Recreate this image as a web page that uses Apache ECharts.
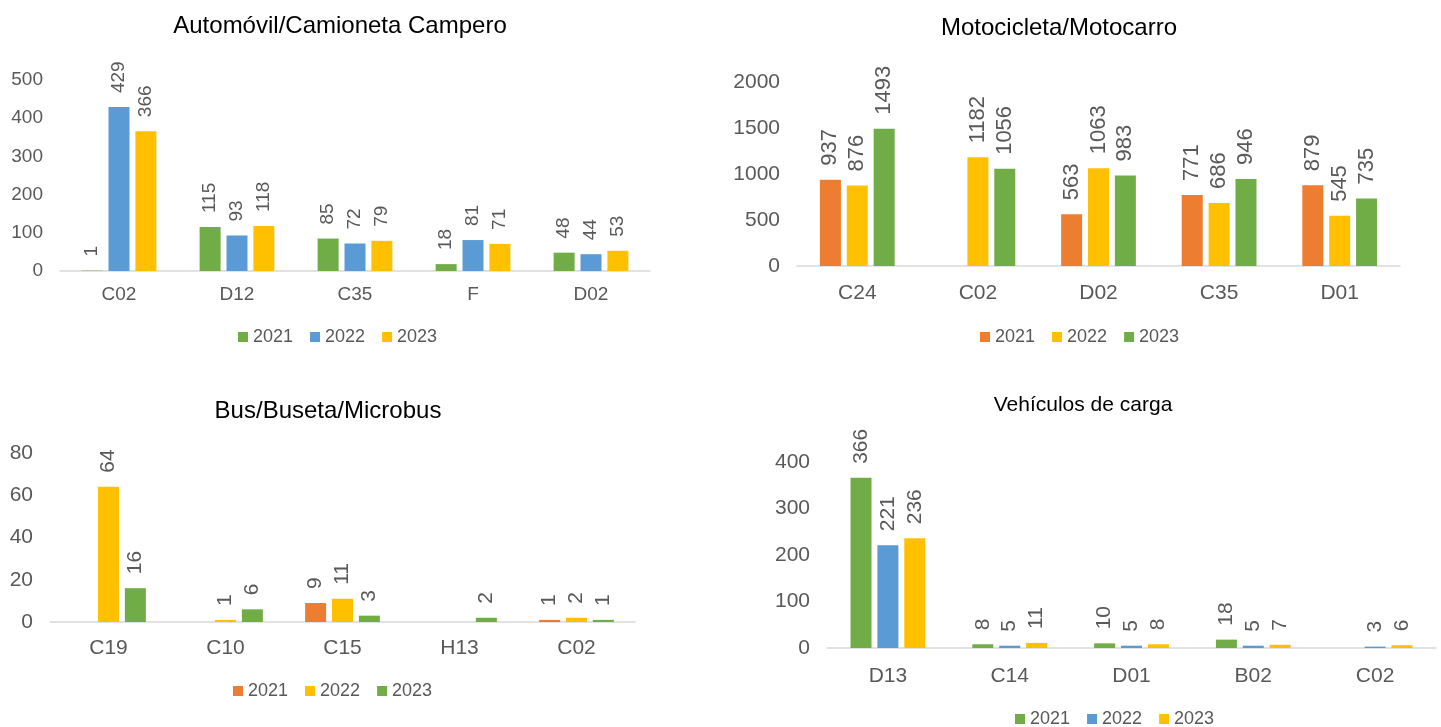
<!DOCTYPE html>
<html>
<head>
<meta charset="utf-8">
<script src="https://cdn.jsdelivr.net/npm/echarts@6/dist/echarts.min.js"></script>
<style>html,body{margin:0;padding:0;background:#fff}#c{width:1441px;height:727px}</style>
</head>
<body>
<div id="c"></div>
<script>
// Chart 1: Automóvil/Camioneta Campero
const cats1 = ['C02', 'D12', 'C35', 'F', 'D02'];
const auto2021 = [1, 115, 85, 18, 48];
const auto2022 = [429, 93, 72, 81, 44];
const auto2023 = [366, 118, 79, 71, 53];
// Chart 2: Motocicleta/Motocarro
const cats2 = ['C24', 'C02', 'D02', 'C35', 'D01'];
const moto2021 = [937, null, 563, 771, 879];
const moto2022 = [876, 1182, 1063, 686, 545];
const moto2023 = [1493, 1056, 983, 946, 735];
// Chart 3: Bus/Buseta/Microbus
const cats3 = ['C19', 'C10', 'C15', 'H13', 'C02'];
const bus2021 = [null, null, 9, null, 1];
const bus2022 = [64, 1, 11, null, 2];
const bus2023 = [16, 6, 3, 2, 1];
// Chart 4: Vehículos de carga
const cats4 = ['D13', 'C14', 'D01', 'B02', 'C02'];
const carga2021 = [366, 8, 10, 18, null];
const carga2022 = [221, 5, 5, 5, 3];
const carga2023 = [236, 11, 8, 7, 6];
const years = ['2021', '2022', '2023'];

const GREEN = '#70AD47', BLUE = '#5B9BD5', YELLOW = '#FFC000', ORANGE = '#ED7D31';
const TXT = '#595959';
const FONT = '"Liberation Sans", Arial, sans-serif';

const panels = [
  {title: 'Automóvil/Camioneta Campero', cats: cats1, data: [auto2021, auto2022, auto2023], colors: [GREEN, BLUE, YELLOW],
   grid: {left: 60, top: 80, width: 590, height: 191}, max: 500, interval: 100, fs: 19, lfs: 19, xm: 14,
   titlePos: [340, 14], tfs: 24, legendPos: [238, 328]},
  {title: 'Motocicleta/Motocarro', cats: cats2, data: [moto2021, moto2022, moto2023], colors: [ORANGE, YELLOW, GREEN],
   grid: {left: 797, top: 82, width: 603, height: 184}, max: 2000, interval: 500, fs: 21, lfs: 22, xm: 17,
   titlePos: [1059, 16], tfs: 24, legendPos: [980, 328]},
  {title: 'Bus/Buseta/Microbus', cats: cats3, data: [bus2021, bus2022, bus2023], colors: [ORANGE, YELLOW, GREEN],
   grid: {left: 50, top: 453, width: 585, height: 169}, max: 80, interval: 20, fs: 21, lfs: 21, xm: 16,
   titlePos: [328, 399], tfs: 24, legendPos: [233, 682]},
  {title: 'Vehículos de carga', cats: cats4, data: [carga2021, carga2022, carga2023], colors: [GREEN, BLUE, YELLOW],
   grid: {left: 827, top: 462, width: 609, height: 186}, max: 400, interval: 100, fs: 21, lfs: 21, xm: 18,
   titlePos: [1083, 395], tfs: 21, legendPos: [1015, 710]}
];

const option = {
  animation: false,
  textStyle: {fontFamily: FONT, color: TXT},
  title: [], grid: [], xAxis: [], yAxis: [], legend: [], series: []
};

panels.forEach((p, i) => {
  option.title.push({
    text: p.title, left: p.titlePos[0], top: p.titlePos[1], textAlign: 'center', padding: 0,
    textStyle: {fontFamily: FONT, fontSize: p.tfs, fontWeight: 'normal', color: '#000'}
  });
  option.grid.push(Object.assign({containLabel: false}, p.grid));
  option.xAxis.push({
    type: 'category', gridIndex: i, data: p.cats,
    axisLine: {lineStyle: {color: '#D9D9D9', width: 1.5}},
    axisTick: {show: false},
    axisLabel: {fontSize: p.fs, color: TXT, fontFamily: FONT, margin: p.xm}
  });
  option.yAxis.push({
    type: 'value', gridIndex: i, min: 0, max: p.max, interval: p.interval,
    axisLine: {show: false}, axisTick: {show: false}, splitLine: {show: false},
    axisLabel: {fontSize: p.fs, color: TXT, fontFamily: FONT, margin: 17, formatter: v => String(v)}
  });
  const names = years.map(y => 'p' + i + '_' + y);
  option.legend.push({
    data: names, left: p.legendPos[0], top: p.legendPos[1], padding: 0,
    icon: 'rect', itemWidth: 10, itemHeight: 10, itemGap: 17,
    textStyle: {fontSize: 18, color: TXT, fontFamily: FONT},
    formatter: n => n.slice(-4)
  });
  p.data.forEach((arr, k) => {
    option.series.push({
      name: names[k], type: 'bar', xAxisIndex: i, yAxisIndex: i, data: arr,
      barWidth: 21, barGap: '28%',
      itemStyle: {color: p.colors[k]},
      label: {
        show: true, position: 'top', rotate: 90, align: 'left', verticalAlign: 'middle',
        distance: 14, fontSize: p.lfs, color: TXT, fontFamily: FONT
      }
    });
  });
});

const chart = echarts.init(document.getElementById('c'), null, {renderer: 'canvas'});
chart.setOption(option);
</script>
</body>
</html>
